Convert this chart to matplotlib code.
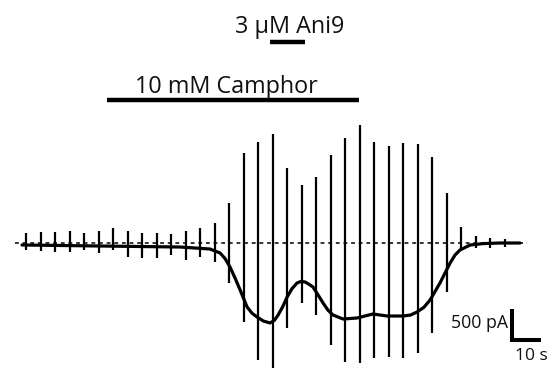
import numpy as np
import matplotlib.pyplot as plt

# slow current component (s, pA)
t_slow = [0, 26.9, 54.5, 64.8, 68.3, 70.0, 71.7, 73.5, 75.2, 77.6, 79.3, 81.0,
          83.2, 85.5, 87.0, 88.3, 89.9, 91.4, 93.1, 94.8, 96.2, 97.6, 99.0,
          100.3, 102.0, 103.8, 105.5, 107.2, 110.7, 115.5, 121.0, 125.9, 131.4,
          134.0, 136.2, 138.6, 140.7, 144.1, 147.6, 149.3, 151.0, 154.5, 159.0,
          164.8, 171.7]
i_slow = [-33, -50, -67, -100, -167, -260, -400, -590, -783, -1067, -1170, -1233,
          -1300, -1333, -1290, -1200, -1060, -900, -760, -667, -640, -650, -690,
          -733, -860, -1000, -1120, -1200, -1267, -1250, -1183, -1217, -1217,
          -1200, -1150, -1070, -950, -667, -333, -200, -117, -33, -10,
          0, 0]

# voltage-step artefacts every 5 s (s, pA)
t_pulse = [1.4, 6.4, 11.4, 16.4, 21.4, 26.4, 31.4, 36.4, 41.4, 46.4, 51.4, 56.4,
           61.4, 66.4, 71.4, 76.4, 81.4, 86.4, 91.4, 96.4, 101.4, 106.4, 111.4,
           116.4, 121.4, 126.4, 131.4, 136.4, 141.4, 146.4, 151.4, 156.4, 161.4, 166.4]
pulse_top = [167, 183, 183, 200, 167, 200, 250, 200, 167, 167, 150, 200,
             250, 333, 667, 1500, 1683, 1817, 1250, 967, 1100, 1467, 1750,
             1967, 1683, 1617, 1667, 1650, 1433, 833, 267, 117, 83, 67]
pulse_bot = [-117, -133, -150, -150, -117, -167, -117, -233, -250, -250, -200, -283,
             -233, -317, -667, -1317, -1950, -2083, -1417, -1000, -1200, -1700, -1983,
             -2000, -1917, -1900, -1917, -1833, -1500, -817, -117, -83, -83, -67]

camphor_on, camphor_off = 29.3, 116.2
ani9_on, ani9_off = 85.5, 97.6

fig = plt.figure(figsize=(5.58, 3.69), dpi=100)
ax = fig.add_axes([0, 0, 1, 1])
ax.set_xlim(-7.6, 184.8)
ax.set_ylim(-2100, 4050)
ax.axis('off')

ax.plot([-2.4, 174], [0, 0], color='black', lw=1.1, ls=(0, (2.5, 2.5)))
ax.plot(t_slow, i_slow, color='black', lw=2.3, solid_capstyle='round',
        solid_joinstyle='round')
ax.vlines(t_pulse, pulse_bot, pulse_top, color='black', lw=1.6)

font = ['Open Sans', 'DejaVu Sans']
ax.plot([camphor_on, camphor_off], [2383, 2383], color='black', lw=3.2, solid_capstyle='butt')
ax.text(39.0, 2500, '10 mM Camphor', fontsize=16.8, family=font,
        ha='left', va='baseline', color='#111111')
ax.plot([ani9_on, ani9_off], [3350, 3350], color='black', lw=3.2, solid_capstyle='butt')
ax.text(92.4, 3500, '3 \u03bcM Ani9', fontsize=16.8, family=font, ha='center',
        va='baseline', color='#111111')

# scale bar: 10 s, 500 pA
sx, sy = 169, -1617
ax.plot([sx, sx, sx + 10], [sy + 520, sy, sy], color='black', lw=2.9,
        solid_joinstyle='miter', solid_capstyle='butt')
ax.text(167.6, -1417, '500 pA', fontsize=12.8, family=font, ha='right',
        va='baseline', color='#111111')
ax.text(170.0, -1950, '10 s', fontsize=12.5, family=font, ha='left',
        va='baseline', color='#111111')

fig.savefig('out.png', dpi=100)
